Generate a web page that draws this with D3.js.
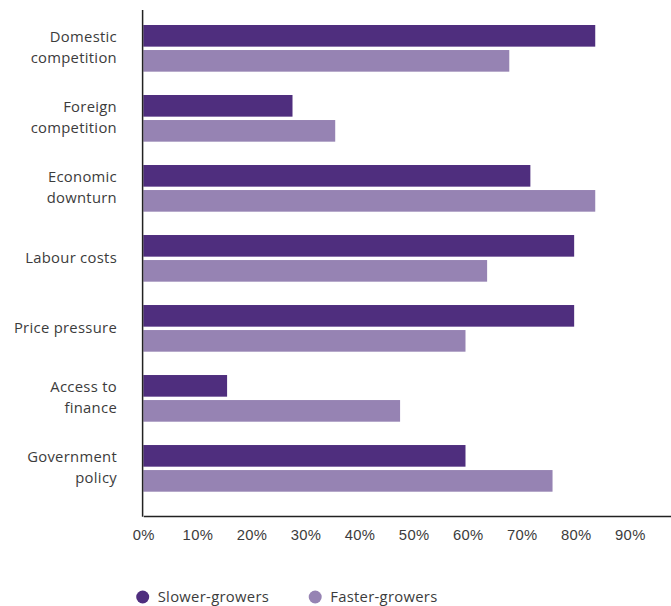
<!DOCTYPE html>
<html>
<head>
<meta charset="utf-8">
<script src="https://cdn.jsdelivr.net/npm/d3@7"></script>
<style>
  body { margin: 0; background: #fff; }
  svg { display: block; font-family: "Open Sans", Lato, sans-serif; }
  .label { fill: #3c3c3c; font-size: 14.8px; letter-spacing: 0.3px; }
</style>
</head>
<body>
<svg width="671" height="606"></svg>
<script>
// data
var categories = [
  ["Domestic", "competition"],
  ["Foreign", "competition"],
  ["Economic", "downturn"],
  ["Labour costs"],
  ["Price pressure"],
  ["Access to", "finance"],
  ["Government", "policy"]
];
var seriesNames = ["Slower-growers", "Faster-growers"];
var slowerGrowers = [83.6, 27.6, 71.6, 79.7, 79.7, 15.5, 59.6];
var fasterGrowers = [67.7, 35.5, 83.6, 63.6, 59.6, 47.5, 75.7];
var tickValues = [0, 10, 20, 30, 40, 50, 60, 70, 80, 90];
var colors = ["#4f2e7e", "#9683b3"];

var svg = d3.select("svg");

var keys = categories.map(function(c) { return c.join(" "); });
var rows = keys.map(function(k, i) {
  return {key: k, lines: categories[i], values: [slowerGrowers[i], fasterGrowers[i]]};
});

// schalen
var x = d3.scaleLinear().domain([0, 100]).range([143.3, 683.9]);
var y = d3.scaleBand().domain(keys).range([25, 491.7]).paddingInner(1 / 3).paddingOuter(0);
var ySub = d3.scaleBand().domain(seriesNames).range([0, y.bandwidth()]).paddingInner(0.135);

// balken
var groups = svg.selectAll(".group")
  .data(rows)
  .enter().append("g")
    .attr("class", "group")
    .attr("transform", function(d) { return "translate(0," + y(d.key) + ")"; });

groups.selectAll("rect")
  .data(function(d) { return d.values.map(function(v, i) { return {name: seriesNames[i], value: v, i: i}; }); })
  .enter().append("rect")
    .attr("x", x(0))
    .attr("y", function(d) { return ySub(d.name); })
    .attr("width", function(d) { return x(d.value) - x(0); })
    .attr("height", ySub.bandwidth())
    .attr("fill", function(d) { return colors[d.i]; });

// categorie labels
groups.each(function(d) {
  var g = d3.select(this);
  var mid = y.bandwidth() / 2;
  var n = d.lines.length;
  d.lines.forEach(function(line, j) {
    g.append("text")
      .attr("class", "label")
      .attr("x", 117)
      .attr("y", mid - 1 + (j - (n - 1) / 2) * 21.5)
      .attr("dy", "0.35em")
      .attr("text-anchor", "end")
      .text(line);
  });
});

// x-as
var xAxis = svg.append("g")
  .attr("transform", "translate(0,516)")
  .call(d3.axisBottom(x).tickValues(tickValues).tickSize(0).tickPadding(13)
    .tickFormat(function(d) { return d + "%"; }));
xAxis.select(".domain").attr("stroke", "#222").attr("stroke-width", 1.5);
xAxis.selectAll("text")
  .attr("class", "label")
  .attr("fill", "#3c3c3c")
  .attr("font-family", null)
  .attr("font-size", null);

// y-as lijn
svg.append("line")
  .attr("x1", 142.6).attr("x2", 142.6)
  .attr("y1", 10).attr("y2", 516.7)
  .attr("stroke", "#222")
  .attr("stroke-width", 1.5);

// legenda
var legend = svg.selectAll(".legend")
  .data(seriesNames)
  .enter().append("g")
    .attr("class", "legend")
    .attr("transform", function(d, i) { return "translate(" + (142.7 + i * 172.5) + ",597)"; });

legend.append("circle")
  .attr("r", 6.5)
  .attr("fill", function(d, i) { return colors[i]; });

legend.append("text")
  .attr("class", "label")
  .attr("x", 15)
  .attr("y", 0)
  .attr("dy", "0.35em")
  .text(function(d) { return d; });
</script>
</body>
</html>
